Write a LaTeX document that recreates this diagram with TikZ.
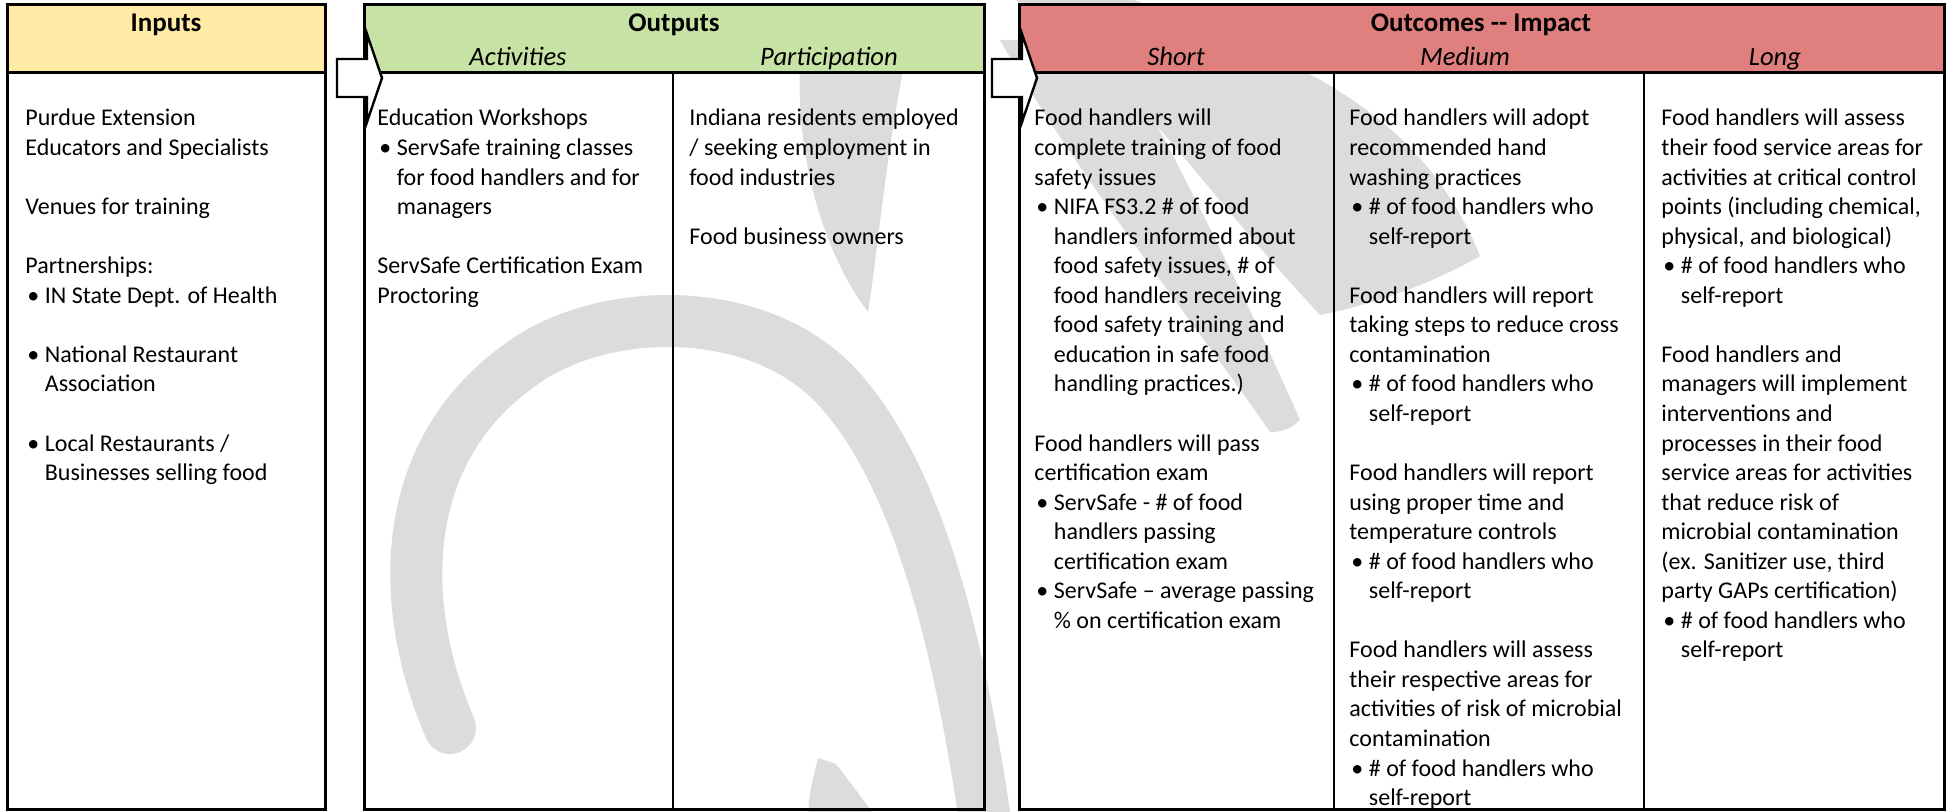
\documentclass[tikz,border=0pt]{standalone}
\usepackage{fontspec}
\setmainfont{Carlito}
\definecolor{inyel}{HTML}{FFEBA6}
\definecolor{outgrn}{HTML}{C6E3A5}
\definecolor{outred}{HTML}{DF7F7E}
\definecolor{wmgray}{HTML}{DCDCDC}
\newcommand\mybul{\makebox[9.75pt][l]{\hspace{1pt}\textbullet}}
\newcommand\myind{\hspace*{9.75pt}}
\newcommand\bodyfont{\fontsize{12}{14.775}\selectfont}
\tikzset{
  boxline/.style={draw=black, line width=1.5pt},
  divline/.style={draw=black, line width=1pt},
  hdr/.style={anchor=base, inner sep=0pt, font=\fontsize{13.5}{16}\selectfont\bfseries},
  subhdr/.style={anchor=base, inner sep=0pt, font=\fontsize{13.3}{16}\selectfont\itshape},
  body/.style={anchor=base west, inner sep=0pt},
  flowarrow/.style={draw=black, fill=white, line width=1.2pt, line join=miter},
  wmark/.style={fill=wmgray, draw=none},
  wstroke/.style={draw=wmgray, line cap=round},
}
\newcommand\colbody[1]{\parbox[t]{160pt}{\bodyfont\raggedright #1}}
\begin{document}
\begin{tikzpicture}[x=0.5pt, y=-0.5pt]
\useasboundingbox (0,0) rectangle (1950,812);
\fill[white] (0,0) rectangle (1950,812);

% ---------------- watermark (background) ----------------
\begin{scope}
\clip (0,0) rectangle (1950,812);
% left arch
\draw[wstroke, line width=26pt] (450,728) .. controls (395,600) and (400,450) .. (520,365)
      .. controls (600,305) and (760,300) .. (840,390) .. controls (920,480) and (960,650) .. (985,820);
% bottom piece
\fill[wmark] (808,815) .. controls (810,790) .. (818,758) -- (836,764) .. controls (856,790) .. (874,815) -- cycle;
% curved stroke in Participation column
\fill[wmark] (800,60) -- (905,60) .. controls (885,160) and (878,250) .. (868,312)
      .. controls (830,262) and (795,170) .. (800,60) -- cycle;
% diagonal stroke through the gap
\fill[wmark] (1000,40) -- (1110,40) .. controls (1200,200) and (1260,330) .. (1300,420)
      .. controls (1290,430) and (1280,432) .. (1270,432) .. controls (1200,330) and (1080,180) .. (1000,40) -- cycle;
% upper right stroke
\fill[wmark] (1010,-5) -- (1120,-5) .. controls (1300,60) and (1420,110) .. (1480,256)
      .. controls (1430,285) and (1370,305) .. (1320,315) .. controls (1250,240) and (1180,150) .. (1130,95)
      .. controls (1080,50) and (1040,20) .. (1010,-5) -- cycle;
\end{scope}

% ---------------- Inputs ----------------
\fill[inyel] (7.5,5) rectangle (325,73);
\draw[boxline] (7.5,73) -- (325,73);
\draw[boxline] (7.5,5) rectangle (325,809.5);
\node[hdr] (tinputs) at (166,32) {Inputs};
\node[body] (inbody) at (25,126) {\colbody{%
Purdue Extension\\
Educators and Specialists\\[14.775pt]
Venues for training\\[14.775pt]
Partnerships:\\
\mybul IN State Dept. of Health\\[14.775pt]
\mybul National Restaurant\\
\myind Association\\[14.775pt]
\mybul Local Restaurants /\\
\myind Businesses selling food}};

% ---------------- Outputs ----------------
\fill[outgrn] (364,5) rectangle (984,73);
\draw[boxline] (364,73) -- (984,73);
\draw[divline] (673,73) -- (673,809.5);
\draw[boxline] (364,5) rectangle (984,809.5);
\node[hdr] (toutputs) at (674,32) {Outputs};
\node[subhdr] (tact) at (518,66) {Activities};
\node[subhdr] (tpart) at (829,66) {Participation};
\node[body] (actbody) at (377,126) {\colbody{%
Education Workshops\\
\mybul ServSafe training classes\\
\myind for food handlers and for\\
\myind managers\\[14.775pt]
ServSafe Certification Exam\\
Proctoring}};
\node[body] (partbody) at (689,126) {\colbody{%
Indiana residents employed\\
/ seeking employment in\\
food industries\\[14.775pt]
Food business owners}};

% ---------------- Outcomes ----------------
\fill[outred] (1019,5) rectangle (1944,73);
\draw[boxline] (1019,73) -- (1944,73);
\draw[divline] (1334,73) -- (1334,809.5);
\draw[divline] (1644,73) -- (1644,809.5);
\draw[boxline] (1019,5) rectangle (1944,809.5);
\node[hdr] (toutcomes) at (1481,32) {Outcomes -{}- Impact};
\node[subhdr] (tshort) at (1176,66) {Short};
\node[subhdr] (tmedium) at (1465,66) {Medium};
\node[subhdr] (tlong) at (1775,66) {Long};
\node[body] (shortbody) at (1034,126) {\colbody{%
Food handlers will\\
complete training of food\\
safety issues\\
\mybul NIFA FS3.2 \# of food\\
\myind handlers informed about\\
\myind food safety issues, \# of\\
\myind food handlers receiving\\
\myind food safety training and\\
\myind education in safe food\\
\myind handling practices.)\\[14.775pt]
Food handlers will pass\\
certification exam\\
\mybul ServSafe - \# of food\\
\myind handlers passing\\
\myind certification exam\\
\mybul ServSafe – average passing\\
\myind \% on certification exam}};
\node[body] (medbody) at (1349,126) {\colbody{%
Food handlers will adopt\\
recommended hand\\
washing practices\\
\mybul \# of food handlers who\\
\myind self-report\\[14.775pt]
Food handlers will report\\
taking steps to reduce cross\\
contamination\\
\mybul \# of food handlers who\\
\myind self-report\\[14.775pt]
Food handlers will report\\
using proper time and\\
temperature controls\\
\mybul \# of food handlers who\\
\myind self-report\\[14.775pt]
Food handlers will assess\\
their respective areas for\\
activities of risk of microbial\\
contamination\\
\mybul \# of food handlers who\\
\myind self-report}};
\node[body] (longbody) at (1661,126) {\colbody{%
Food handlers will assess\\
their food service areas for\\
activities at critical control\\
points (including chemical,\\
physical, and biological)\\
\mybul \# of food handlers who\\
\myind self-report\\[14.775pt]
Food handlers and\\
managers will implement\\
interventions and\\
processes in their food\\
service areas for activities\\
that reduce risk of\\
microbial contamination\\
(ex. Sanitizer use, third\\
party GAPs certification)\\
\mybul \# of food handlers who\\
\myind self-report}};

% ---------------- Arrows ----------------
\draw[flowarrow] (337,59) -- (367,59) -- (367,34) -- (382,78) -- (367,122) -- (367,97) -- (337,97) -- cycle;
\draw[flowarrow] (992,59) -- (1022,59) -- (1022,34) -- (1037,78) -- (1022,122) -- (1022,97) -- (992,97) -- cycle;
\end{tikzpicture}
\end{document}
